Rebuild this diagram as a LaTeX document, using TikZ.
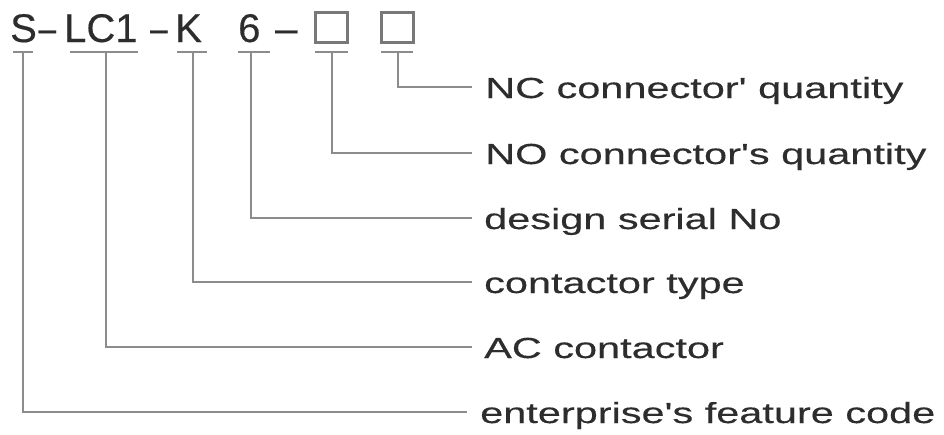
\documentclass[tikz,border=0pt]{standalone}
\usepackage{fontspec}
\setmainfont{Liberation Sans}
\newfontfamily\codefont[FakeBold=0.4]{Liberation Sans}
\newfontfamily\labfont[FakeStretch=1.43,FakeBold=0.4]{Liberation Sans}
\definecolor{txt}{RGB}{45,45,45}
\definecolor{ln}{RGB}{140,140,140}
\definecolor{bx}{RGB}{120,120,120}
\begin{document}
\begin{tikzpicture}[x=1pt,y=-1pt,
  code/.style={inner sep=0pt,anchor=base west,text=txt,font=\codefont\fontsize{40}{40}\selectfont},
  boxn/.style={draw=bx,line width=2.2pt,minimum width=32pt,minimum height=30pt,inner sep=0pt},
  lab/.style={inner sep=0pt,anchor=west,text=txt,text height=22pt,text depth=0pt,font=\labfont\fontsize{29}{29}\selectfont},
  conn/.style={draw=ln,line width=1.8pt},
  uline/.style={draw=ln,line width=1.8pt}]
\useasboundingbox (0,0) rectangle (944,434);
% code string
\node[code] (S) at (10,42) {S};
\node[code] (d1) at (38.5,42) {\scalebox{0.78}[1]{–}};
\node[code] (LC) at (64,42) {LC1};
\node[code] (d2) at (150,42) {\scalebox{0.78}[1]{–}};
\node[code] (K) at (175,42) {K};
\node[code] (six) at (238,42) {6};
\node[code] (d3) at (275,42) {–};
\node[boxn] (B1) at (331.5,27.5) {};
\node[boxn] (B2) at (397.5,27.5) {};
% underlines
\coordinate (uS) at (23,52);
\coordinate (uLC) at (106,52);
\coordinate (uK) at (193,52);
\coordinate (u6) at (251,52);
\coordinate (uB1) at (332,52);
\coordinate (uB2) at (398,52);
\draw[uline] (13,52) -- (33,52);
\draw[uline] (70,52) -- (138,52);
\draw[uline] (177,52) -- (207,52);
\draw[uline] (238,52) -- (270,52);
\draw[uline] (315,52) -- (348,52);
\draw[uline] (381,52) -- (413,52);
% labels
\node[lab] (lNC) at (485,87) {NC connector' quantity};
\node[lab] (lNO) at (485,153) {NO connector's quantity};
\node[lab] (lDS) at (484,218) {design serial No};
\node[lab] (lCT) at (484,282) {contactor type};
\node[lab] (lAC) at (484,347) {AC contactor};
\node[lab] (lEN) at (480,412) {enterprise's feature code};
% connectors
\draw[conn] (uB2) |- ([xshift=-13pt]lNC.west);
\draw[conn] (uB1) |- ([xshift=-13pt]lNO.west);
\draw[conn] (u6) |- ([xshift=-12pt]lDS.west);
\draw[conn] (uK) |- ([xshift=-12pt]lCT.west);
\draw[conn] (uLC) |- ([xshift=-12pt]lAC.west);
\draw[conn] (uS) |- ([xshift=-13pt]lEN.west);
\end{tikzpicture}
\end{document}
